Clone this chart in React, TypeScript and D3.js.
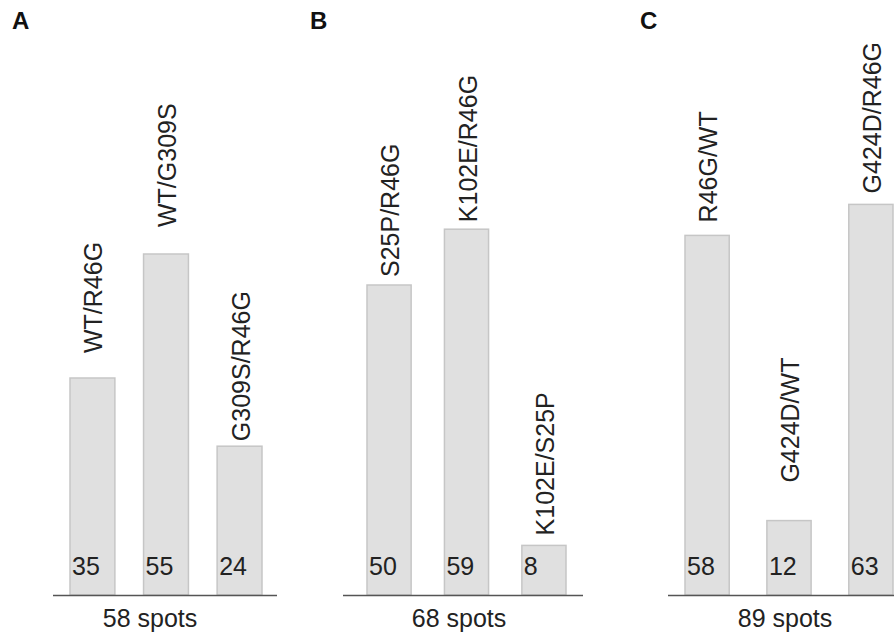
import React from "react";
import * as d3 from "d3";

// panel data
const panelLetters = ["A", "B", "C"];
const spotTotals = [58, 68, 89];
const pairLabelsA = ["WT/R46G", "WT/G309S", "G309S/R46G"];
const pairLabelsB = ["S25P/R46G", "K102E/R46G", "K102E/S25P"];
const pairLabelsC = ["R46G/WT", "G424D/WT", "G424D/R46G"];
const countsA = [35, 55, 24];
const countsB = [50, 59, 8];
const countsC = [58, 12, 63];

// layout only (pixel tweaks, no data)
const W = 894;
const H = 636;
const baseY = 595;
const layout = [
  { letterX: 12, bars: [70, 262], line: [53, 277], pad: 0.39, spotsX: 150, labelGap: [25, 27, 5] },
  { letterX: 310, bars: [367, 566], line: [343, 583], pad: 0.43, spotsX: 459, labelGap: [8, 7, 10] },
  { letterX: 640, bars: [685, 893], line: [668, 894], pad: 0.46, spotsX: 785, labelGap: [13, 38, 11] },
];

const font = "'Liberation Sans', Arial, sans-serif";

export default function App() {
  const labels = [pairLabelsA, pairLabelsB, pairLabelsC];
  const counts = [countsA, countsB, countsC];

  const y = d3.scaleLinear().domain([0, 100]).range([baseY, baseY - 620]);

  return (
    <svg
      width={W}
      height={H}
      style={{ position: "absolute", left: 0, top: 0, background: "#fff" }}
      fontFamily={font}
    >
      {panelLetters.map((letter, p) => {
        const lay = layout[p];
        const x = d3
          .scaleBand<number>()
          .domain(d3.range(counts[p].length))
          .range(lay.bars as [number, number])
          .paddingInner(lay.pad)
          .paddingOuter(0);
        return (
          <g key={letter}>
            <text x={lay.letterX} y={29} fontSize={24} fontWeight="bold" fill="#111">
              {letter}
            </text>
            {counts[p].map((v, i) => {
              const bx = x(i)!;
              const bw = x.bandwidth();
              const top = y(v);
              return (
                <g key={i}>
                  <rect
                    x={bx}
                    y={top}
                    width={bw}
                    height={baseY - top}
                    fill="#e0e0e0"
                    stroke="#c6c6c6"
                    strokeWidth={1.5}
                  />
                  <text x={bx + 2} y={baseY - 20} fontSize={25} fill="#222">
                    {v}
                  </text>
                  <text
                    transform={`translate(${bx + bw / 2 + 1},${top - lay.labelGap[i]}) rotate(-90)`}
                    fontSize={25}
                    dominantBaseline="central"
                    fill="#222"
                  >
                    {labels[p][i]}
                  </text>
                </g>
              );
            })}
            <line
              x1={lay.line[0]}
              x2={lay.line[1]}
              y1={baseY + 0.5}
              y2={baseY + 0.5}
              stroke="#555"
              strokeWidth={1.5}
            />
            <text x={lay.spotsX} y={627} fontSize={25} textAnchor="middle" fill="#222">
              {`${spotTotals[p]} spots`}
            </text>
          </g>
        );
      })}
    </svg>
  );
}
